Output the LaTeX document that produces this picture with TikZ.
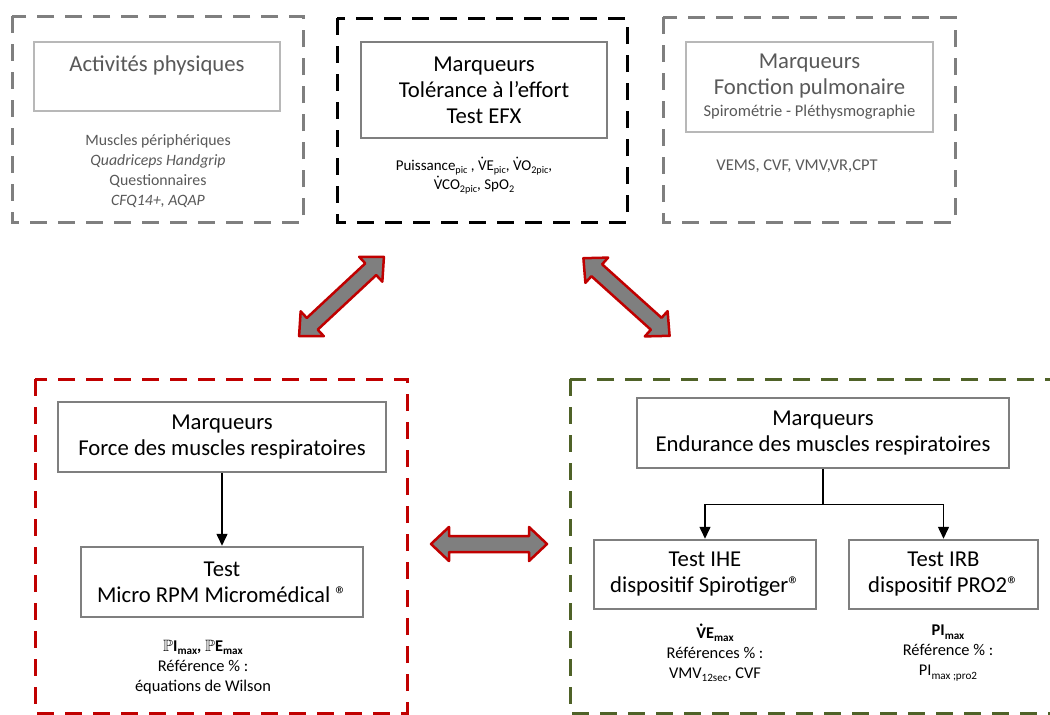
\documentclass[tikz,border=0pt]{standalone}
\usepackage{amssymb}
\usepackage{fontspec}
\setmainfont{Carlito}
\usetikzlibrary{arrows.meta}
\definecolor{dgray}{HTML}{7F7F7F}
\definecolor{lgray}{HTML}{B8B8B8}
\definecolor{tgray}{HTML}{595959}
\definecolor{arrred}{HTML}{C00000}
\definecolor{olive}{HTML}{4F6228}
\newcommand{\myfs}[2]{\fontsize{#1}{#2}\selectfont}
\newdimen\mytmpd
\makeatletter
\newcommand{\sbs}[1]{{\mytmpd=\f@size pt \mytmpd=0.68\mytmpd\raisebox{-0.22em}{\fontsize{\the\mytmpd}{0pt}\selectfont #1}}}
\makeatother
\newcommand{\dotacc}[1]{\accent"02D9 #1}
\tikzset{
  outerbox/.style={line width=3pt, dash pattern=on 17pt off 11pt},
  ibox/.style={draw=dgray, line width=2.5pt, align=center, inner sep=0pt, font=\myfs{22.7}{26}},
  smalltxt/.style={align=center, inner sep=0pt, font=\myfs{16.4}{20}},
  conn/.style={line width=1.5pt, -{Triangle[length=12pt,width=11pt]}},
  bigarrow/.pic={\draw[line width=2.5pt, draw=arrred, fill=dgray, line join=round]
     (-58,0) -- (-40,17) -- (-40,8) -- (40,8) -- (40,17) -- (58,0) -- (40,-17) -- (40,-8) -- (-40,-8) -- (-40,-17) -- cycle;}
}
\begin{document}
\begin{tikzpicture}[x=1pt,y=-1pt]
\useasboundingbox[fill=white] (0,0) rectangle (1050,715);
% outer dashed frames
\draw[outerbox, dgray] (12,16) rectangle (303,222);
\draw[outerbox, black] (337,18) rectangle (627,222);
\draw[outerbox, dgray] (663,17) rectangle (955,222);
\draw[outerbox, arrred] (35,379) rectangle (407,713);
\draw[outerbox, olive] (570,379) rectangle (1070,713);

% top left
\node[ibox, draw=lgray, minimum width=246pt, minimum height=69pt] (ap) at (157,76.5) {};
\node[inner sep=0pt, font=\myfs{22.7}{26}, text=tgray] (aptxt) at (157,65) {Activités physiques};
\node[smalltxt, text=tgray, font=\myfs{15.8}{20}] (apsub) at (158,171) {Muscles périphériques\\\textit{Quadriceps Handgrip}\\Questionnaires\\\textit{CFQ14+, AQAP}};

% top middle
\node[ibox, minimum width=246pt, minimum height=96pt] (efx) at (484,90) {Marqueurs\\Tolérance à l’effort\\Test EFX};
\node[smalltxt, font=\myfs{15}{19}] (efxsub) at (474,176) {Puissance\sbs{pic} , \dotacc{V}E\sbs{pic}, \dotacc{V}O\sbs{2pic},\\\dotacc{V}CO\sbs{2pic}, SpO\sbs{2}};

% top right
\node[ibox, draw=lgray, text=tgray, minimum width=247pt, minimum height=90pt] (fp) at (809.5,87) {Marqueurs\\Fonction pulmonaire\\[-4pt]{\myfs{16.5}{18}Spirométrie - Pléthysmographie}};
\node[smalltxt, text=tgray, font=\myfs{16.5}{20}] (fpsub) at (797,166) {VEMS, CVF, VMV,VR,CPT};

% big arrows
\pic[rotate=43] at (341.5,296.5) {bigarrow};
\pic[rotate=-42] at (626.5,297) {bigarrow};
\pic at (489,544) {bigarrow};

% bottom left
\node[ibox, minimum width=328pt, minimum height=70pt] (fmr) at (222,437) {Marqueurs\\Force des muscles respiratoires};
\node[ibox, minimum width=282pt, minimum height=70pt] (rpm) at (222,582) {Test\\Micro RPM Micromédical ®};
\draw[conn] (fmr.south) -- (rpm.north);
\node[smalltxt] (rpmsub) at (203,667) {$\mathbb{P}$\textbf{I\sbs{max},} $\mathbb{P}$\textbf{E\sbs{max}}\\Référence \% :\\équations de Wilson};

% bottom right
\node[ibox, minimum width=372pt, minimum height=70pt] (emr) at (823,433) {Marqueurs\\Endurance des muscles respiratoires};
\node[ibox, minimum width=222pt, minimum height=69pt] (ihe) at (705,574.5) {Test IHE\\dispositif Spirotiger®};
\node[ibox, minimum width=189pt, minimum height=69pt] (irb) at (943.5,574.5) {Test IRB\\dispositif PRO2®};
\draw[line width=1.5pt] (emr.south) -- ++(0,35) coordinate (j);
\draw[conn] (j) -| (ihe.north);
\draw[conn] (j) -| (irb.north);
\node[smalltxt] (ihesub) at (715,653) {\textbf{\dotacc{V}E\sbs{max}}\\Références \% :\\VMV\sbs{12sec}, CVF};
\node[smalltxt] (irbsub) at (948,653) {\textbf{PI\sbs{max}}\\Référence \% :\\PI\sbs{max ;pro2}};
\end{tikzpicture}
\end{document}
